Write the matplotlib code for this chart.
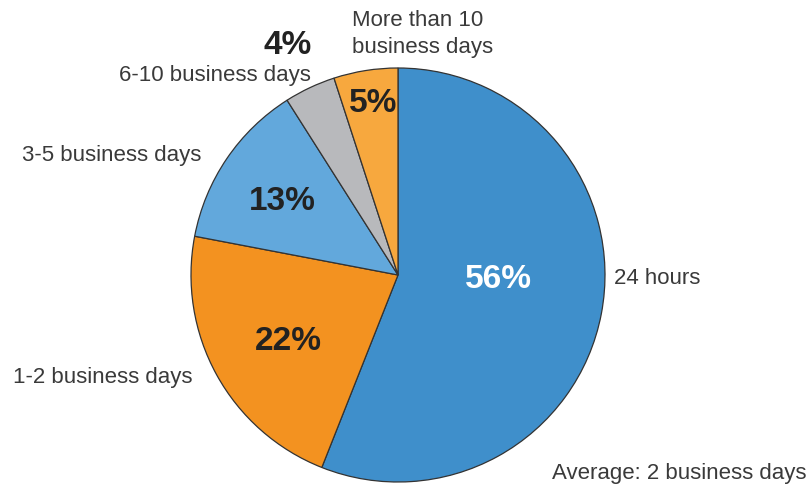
import matplotlib.pyplot as plt

# Share of requests by response time
labels = ['24 hours', '1-2 business days', '3-5 business days',
          '6-10 business days', 'More than 10\nbusiness days']
shares = [56, 22, 13, 4, 5]
colors = ['#3F8FCB', '#F39220', '#62A8DC', '#B8B9BC', '#F7A83E']
note = 'Average: 2 business days'

plt.rcParams['font.family'] = ['Liberation Sans', 'DejaVu Sans']

fig = plt.figure(figsize=(8.11, 4.92), dpi=100)
ax = fig.add_axes([0, 0, 1, 1])

cx, cy, r = 398, 217, 207
wedges, _ = ax.pie(shares, colors=colors, startangle=90, counterclock=False,
                   center=(cx, cy), radius=r, frame=True,
                   wedgeprops=dict(edgecolor='#333333', linewidth=0.9))
ax.set_xlim(0, 811)
ax.set_ylim(0, 492)
ax.set_aspect('equal')
ax.axis('off')

txt = '#3a3a3a'
# percentage labels (pixel positions from top converted to axis coords)
pct_pos = [(498, 279), (288, 342), (282, 202), (288, 45), (373, 104)]
pct_col = ['white', '#222222', '#222222', '#222222', '#222222']
for v, (x, y), c in zip(shares, pct_pos, pct_col):
    ax.text(x, 492 - y, f'{v}%', ha='center', va='center', fontsize=24,
            fontweight='bold', color=c)

# category labels
ax.text(614, 492 - 278, labels[0], ha='left', va='center', fontsize=16, color=txt)
ax.text(13, 492 - 378, labels[1], ha='left', va='center', fontsize=16, color=txt)
ax.text(22, 492 - 155, labels[2], ha='left', va='center', fontsize=16, color=txt)
ax.text(311, 492 - 75, labels[3], ha='right', va='center', fontsize=16, color=txt)
ax.text(352, 492 - 34, labels[4], ha='left', va='center', fontsize=16, color=txt,
        linespacing=1.4)
ax.text(806, 492 - 474, note, ha='right', va='center', fontsize=16, color=txt)

plt.savefig('out.png', dpi=100)
